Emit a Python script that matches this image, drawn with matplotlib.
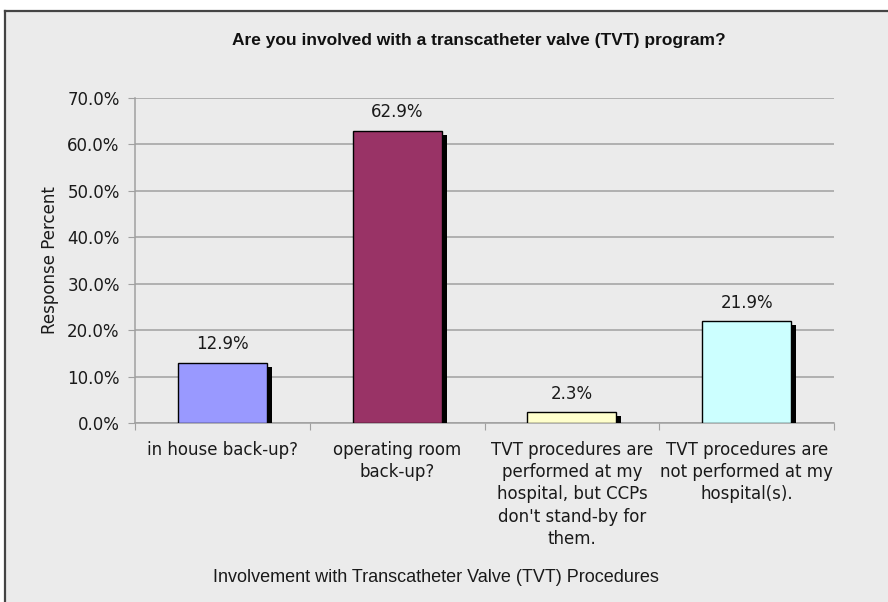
import matplotlib
matplotlib.use("Agg")
import matplotlib.pyplot as plt
import matplotlib.patheffects as pe
from matplotlib.lines import Line2D

categories = [
    "in house back-up?",
    "operating room\nback-up?",
    "TVT procedures are\nperformed at my\nhospital, but CCPs\ndon't stand-by for\nthem.",
    "TVT procedures are\nnot performed at my\nhospital(s).",
]
values = [12.9, 62.9, 2.3, 21.9]
colors = ["#9999ff", "#993366", "#ffffcc", "#ccffff"]
yticks = [0, 10, 20, 30, 40, 50, 60, 70]

bg = "#ebebeb"
narrow = ["Liberation Sans", "DejaVu Sans"]

fig = plt.figure(figsize=(8.88, 6.02), dpi=100)
fig.patch.set_facecolor("white")

# light grey panel with a dark border on top and left
fig.patches.append(plt.Rectangle((5 / 888, 0), 1, 1 - 11 / 602,
                                 transform=fig.transFigure, facecolor=bg,
                                 edgecolor="none", zorder=-5))
fig.lines.append(Line2D([5 / 888, 5 / 888], [0, 1 - 11 / 602],
                        transform=fig.transFigure, color="#444444", lw=1.6))
fig.lines.append(Line2D([5 / 888, 1], [1 - 11 / 602, 1 - 11 / 602],
                        transform=fig.transFigure, color="#444444", lw=1.6))

ax = fig.add_axes([135 / 888, 1 - 423 / 602, 699 / 888, 325 / 602])
ax.set_zorder(2)
ax.set_facecolor(bg)

x = range(len(values))
bars = ax.bar(x, values, width=0.51, color=colors, edgecolor="black",
              linewidth=1.0, zorder=3)
for b in bars:
    b.set_path_effects([pe.SimplePatchShadow(offset=(3.6, -3.0),
                                             shadow_rgbFace="black", alpha=1.0),
                        pe.Normal()])

for xi, v in zip(x, values):
    ax.annotate(f"{v:.1f}%", (xi, v), xytext=(0, 7), textcoords="offset points",
                ha="center", va="bottom", fontsize=12, color="#1a1a1a")

ax.set_xlim(-0.5, len(values) - 0.5)
ax.set_ylim(0, 70)
ax.set_yticks(yticks)
ax.set_yticklabels([f"{t:.1f}%" for t in yticks], fontsize=12, color="#1a1a1a")
ax.yaxis.grid(True, color="#a0a0a0", linewidth=1.1, zorder=0)
ax.set_axisbelow(True)

ax.set_xticks([i - 0.5 for i in range(len(values) + 1)])
ax.set_xticklabels([])
ax.set_xticks(list(x), minor=True)
ax.set_xticklabels(categories, minor=True, fontsize=12, color="#1a1a1a",
                   linespacing=1.3, va="top")
ax.tick_params(axis="x", which="minor", length=0, pad=13)
ax.tick_params(axis="x", which="major", length=5, color="#a0a0a0")
ax.tick_params(axis="y", length=5, color="#a0a0a0", pad=6)

for s in ["top", "right"]:
    ax.spines[s].set_visible(False)
ax.spines["left"].set_color("#a0a0a0")
ax.spines["bottom"].set_color("#a0a0a0")
ax.spines["left"].set_linewidth(1.1)
ax.spines["bottom"].set_linewidth(1.1)

ax.set_ylabel("Response Percent", fontsize=12, color="#1a1a1a", labelpad=6)

fig.text(479 / 888, 1 - 40 / 602,
         "Are you involved with a transcatheter valve (TVT) program?",
         ha="center", va="center", fontsize=12.5, fontweight="bold",
         family=narrow, color="#111111")
fig.text(436 / 888, 1 - 577 / 602,
         "Involvement with Transcatheter Valve (TVT) Procedures",
         ha="center", va="center", fontsize=13, family=narrow, color="#1a1a1a")

fig.savefig("out.png", dpi=100, facecolor=fig.get_facecolor())
